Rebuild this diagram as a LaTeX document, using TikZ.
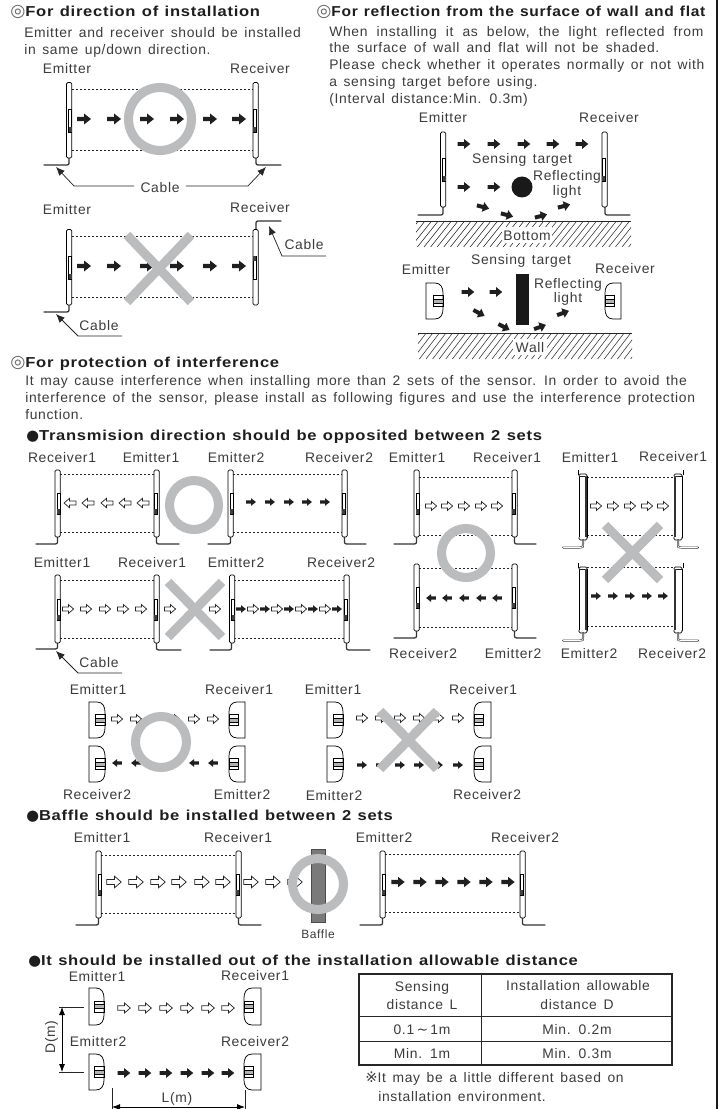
\documentclass[tikz,border=0pt]{standalone}
\usepackage{fontspec}
\setmainfont[LetterSpace=5,WordSpace=1.45]{Liberation Sans}
\newfontfamily\headf[LetterSpace=5,FakeStretch=1.15,WordSpace=1.2]{Liberation Sans}
\newfontfamily\headg[LetterSpace=5,FakeStretch=1.08,WordSpace=1.2]{Liberation Sans}
\newfontfamily\symf{DejaVu Sans}
\usetikzlibrary{arrows.meta}
\definecolor{txtc}{HTML}{3C3C3C}
\definecolor{headc}{HTML}{1E1E1E}
\definecolor{markc}{HTML}{BBBCBD}
\newcommand{\dblc}{{\fontsize{13}{12}\symf\mdseries\color{black!60}◎}}
\newcommand{\bull}{{\fontsize{11}{12}\symf\mdseries ●}}
\tikzset{
  lab/.style={inner sep=0pt,text=txtc,font=\fontsize{10.4}{12}\selectfont,text height=7.5pt,text depth=0pt,align=center},
  bodyt/.style={lab,anchor=west},
  headt/.style={inner sep=0pt,anchor=west,text=headc,font=\fontsize{10.8}{12}\headf\bfseries,text height=7.5pt,text depth=0pt},
  barshape/.style={draw=black,fill=white,line width=.5pt,rounded corners=1pt},
  dashl/.style={draw=black!85,line width=.55pt,dash pattern=on 1.7pt off 1.3pt},
  cablel/.style={draw=black!80,line width=.95pt,line cap=round},
  ringm/.style={draw=markc,line width=6.8pt},
  crossm/.style={draw=markc,line width=6.8pt},
  leader/.style={draw=black!85,line width=.55pt,-{Latex[length=6.5pt,width=5.5pt]}},
  dimm/.style={draw=black,line width=.6pt,{Latex[length=6pt,width=4.5pt]}-{Latex[length=6pt,width=4.5pt]}},
  thinl/.style={draw=black!85,line width=.55pt},
  barrow/.pic={\fill[black!88] (-7,-2.2)--(0,-2.2)--(0,-5.5)--(7,0)--(0,5.5)--(0,2.2)--(-7,2.2)--cycle;},
  harrow/.pic={\filldraw[draw=black!85,fill=white,line width=.55pt] (-7,-2.4)--(.5,-2.4)--(.5,-5.6)--(7,0)--(.5,5.6)--(.5,2.4)--(-7,2.4)--cycle;},
}
% bar: x-left, top, bottom, window side (1 right, -1 left), window flip (0 black at bottom, 1 black at top)
\newcommand{\sbar}[5]{%
  \pgfmathsetmacro{\wa}{#2+.35*(#3-#2)}\pgfmathsetmacro{\wb}{#2+.66*(#3-#2)}%
  \pgfmathsetmacro{\wc}{ifthenelse(#4>0,#1+2.2,#1)}%
  \path[barshape] (#1,#2) rectangle (#1+5.2,#3);
  \draw[line width=.4pt,fill=white] (\wc,\wa) rectangle (\wc+3,\wb);
  \ifnum#5=0 \fill[black!75] (\wc,\wb-5) rectangle (\wc+3,\wb);
  \else \fill[black!75] (\wc,\wa) rectangle (\wc+3,\wa+5); \fi
}
% cable: x, ystart, xend, ycable
\newcommand{\scable}[4]{%
  \pgfmathsetmacro{\sx}{ifthenelse(#3>#1,1,-1)}\pgfmathsetmacro{\sy}{ifthenelse(#4>#2,1,-1)}%
  \draw[cablel] (#1,#2)--(#1,#4-4*\sy) .. controls (#1,#4) .. (#1+4.5*\sx,#4)--(#3,#4);
}
\newcommand{\dshape}[4]{% xflat xround top bottom
  \pgfmathsetmacro{\sx}{ifthenelse(#2>#1,1,-1)}\pgfmathsetmacro{\ym}{(#3+#4)/2}%
  \draw[line width=.55pt,fill=white] (#1,#3)--(#2-8*\sx,#3) .. controls (#2-2*\sx,#3) and (#2,#3+5) .. (#2,#3+10)--(#2,#4-10) .. controls (#2,#4-5) and (#2-2*\sx,#4) .. (#2-8*\sx,#4)--(#1,#4)--cycle;
  \fill[black!30] (#2,\ym-2) rectangle (#2-9.5*\sx,\ym+2);
  \draw[line width=.4pt] (#2,\ym-5.5) rectangle (#2-9.5*\sx,\ym+5.5);
  \draw[line width=.4pt] (#2,\ym-2) -- (#2-9.5*\sx,\ym-2) (#2,\ym+2) -- (#2-9.5*\sx,\ym+2);
}
\newcommand{\hatchfloor}[4]{% xl xr top bottom
  \begin{scope}
    \clip (#1,#3) rectangle (#2,#4);
    \foreach \hx in {0,...,40}{\draw[line width=.42pt,black!80] (#1-25+\hx*6.6,#4)--(#1-25+\hx*6.6+20,#3);}
  \end{scope}
  \draw[line width=.75pt,black!85] (#1,#3)--(#2,#3);
}
\newcommand{\heavybar}[5]{% xl top bottom darkside(1 right,-1 left) cable end x
  \pgfmathsetmacro{\dk}{ifthenelse(#4>0,#1+7,#1+1)}\pgfmathsetmacro{\xc}{#1+4}%
  \draw[line width=.5pt,fill=white] (#1,#2) rectangle (#1+8,#3);
  \draw[line width=1.1pt,black!80] (\dk,#2)--(\dk,#3);
  \draw[line width=.6pt,rounded corners=1pt,fill=white] (#1,#2)--(#1,#2-2)--(#1+8,#2-2)--(#1+8,#2);
  \draw[line width=.6pt,rounded corners=1pt,fill=white] (#1,#3)--(#1,#3+3)--(#1+8,#3+3)--(#1+8,#3);
  \pgfmathsetmacro{\hk}{ifthenelse(#4>0,#1-.5,#1+9)}%
  \draw[line width=.6pt] (\hk,#2-1)--(\hk,#2-6);
  \pgfmathsetmacro{\sx}{ifthenelse(#5>#1,1,-1)}%
  \draw[line width=1.5pt,black!75,line cap=round] (\xc,#3+3) -- (\xc,#3+7) .. controls (\xc,#3+10.5) .. (\xc+3*\sx,#3+10.5)--(#5,#3+10.5);
  \draw[line width=.6pt,white,line cap=round] (\xc,#3+3.5) -- (\xc,#3+7) .. controls (\xc,#3+10.5) .. (\xc+3*\sx,#3+10.5)--(#5-.5*\sx,#3+10.5);
}
\begin{document}
\begin{tikzpicture}[x=.75pt,y=-.75pt]
\useasboundingbox (0,0) rectangle (720,1109);
\fill[white] (0,0) rectangle (720,1109);
\draw[black!90,line width=1.9pt] (717,0)--(717,1109);

% ---------- section 1
\node[headt] (h1) at (10,12) {\dblc For direction of installation};
\node[bodyt] (b1a) at (24,33) {Emitter and receiver should be installed};
\node[bodyt] (b1b) at (24,50) {in same up/down direction.};
\node[lab] (e1) at (67,69) {Emitter};
\node[lab] (r1) at (260,69) {Receiver};
\draw[dashl] (72,89)--(253,89) (72,150)--(253,150);
\scable{69}{158}{44}{165}\scable{256}{158}{281}{165}
\sbar{66.5}{82.5}{158}{1}{0}\sbar{253}{82.5}{158}{-1}{0}
\foreach \xx in {84,114,147,177,210,239}{\pic at (\xx,119) {barrow};}
\draw[ringm] (160,119) circle (31.5);
\node[lab] (c1) at (160,188) {Cable};
\coordinate (c1la) at (74,186);\coordinate (c1lb) at (56,167);
\coordinate (c1ra) at (248,186);\coordinate (c1rb) at (266,167);
\draw[leader] (c1.west) ++(-6,-2) -- (c1la) -- (c1lb);
\draw[leader] (c1.east) ++(6,-2) -- (c1ra) -- (c1rb);

\node[lab] (e2) at (67,210) {Emitter};
\node[lab] (r2) at (260,208) {Receiver};
\draw[dashl] (72,236)--(253,236) (72,297)--(253,297);
\scable{69}{305}{44}{312}\scable{256}{229}{281}{221}
\sbar{66.5}{229.5}{305}{1}{0}\sbar{253}{229.5}{305}{-1}{1}
\foreach \xx in {84,114,147,177,210,239}{\pic at (\xx,266) {barrow};}
\draw[crossm] (127,235)--(191,302) (191,235)--(127,302);
\node[lab] (c2) at (304,244) {Cable};
\coordinate (c2a) at (326,256);\coordinate (c2b) at (282,256);\coordinate (c2c) at (269,226);
\draw[leader] (c2a)--(c2b)--(c2c);
\node[lab] (c3) at (99,325) {Cable};
\coordinate (c3a) at (122,336);\coordinate (c3b) at (78,336);\coordinate (c3c) at (56,314);
\draw[leader] (c3a)--(c3b)--(c3c);

% ---------- section 2
\node[headt,font=\fontsize{10.8}{12}\headg\bfseries] (h2) at (316,12) {\dblc For reflection from the surface of wall and flat};
\node[bodyt] (b2a) at (329,32) {\spaceskip=6.8pt\relax When installing it as below, the light reflected from};
\node[bodyt] (b2b) at (329,48) {\spaceskip=5.4pt\relax the surface of wall and flat will not be shaded.};
\node[bodyt] (b2c) at (329,65) {Please check whether it operates normally or not with};
\node[bodyt] (b2d) at (329,82) {a sensing target before using.};
\node[bodyt] (b2e) at (329,98.5) {(Interval distance:Min. 0.3m)};
\node[lab] (e3) at (443,118) {Emitter};
\node[lab] (r3) at (609,118) {Receiver};
\scable{443}{207}{418}{215}\scable{605}{207}{630}{215}
\sbar{440.5}{132}{207}{1}{0}\sbar{602}{132}{207}{-1}{0}
\foreach \xx in {464,494,524,553,582}{\pic[scale=.9] at (\xx,144) {barrow};}
\foreach \xx in {464,494}{\pic[scale=.9] at (\xx,187) {barrow};}
\pic[scale=.9,rotate=-15] at (483,207) {barrow};
\pic[scale=.9,rotate=-15] at (507,215) {barrow};
\pic[scale=.9,rotate=15] at (541,216) {barrow};
\pic[scale=.9,rotate=15] at (564,206) {barrow};
\fill[black!90] (522,187) circle (10.5);
\node[lab] (s1) at (522,159) {Sensing target};
\node[lab] (rf1) at (567,176) {Reflecting};
\node[lab] (rf1b) at (567,191) {light};
\hatchfloor{416}{631}{222}{247}
\node[lab,fill=white,minimum width=37pt,minimum height=12pt] (bt) at (527,235.5) {Bottom};

\node[lab] (e4) at (426,269) {Emitter};
\node[lab] (s2) at (521,259) {Sensing target};
\node[lab] (r4) at (625,268) {Receiver};
\dshape{426}{443}{283}{319}\dshape{621}{605}{283}{319}
\foreach \xx in {468,496}{\pic[scale=.9] at (\xx,292) {barrow};}
\pic[scale=.9,rotate=-28] at (479,313) {barrow};
\pic[scale=.9,rotate=-28] at (504,327) {barrow};
\pic[scale=.9,rotate=20] at (540,327) {barrow};
\pic[scale=.9,rotate=20] at (563,313) {barrow};
\fill[black!90] (516,274) rectangle (529,325);
\node[lab] (rf2) at (568,283) {Reflecting};
\node[lab] (rf2b) at (568,297) {light};
\hatchfloor{418}{632}{333}{359}
\node[lab,fill=white,minimum width=25pt,minimum height=12pt] (wl) at (530,347) {Wall};

% ---------- section 3
\node[headt] (h3) at (10,362) {\dblc For protection of interference};
\node[bodyt] (b3a) at (25,380) {It may cause interference when installing more than 2 sets of the sensor. In order to avoid the};
\node[bodyt] (b3b) at (25,397) {interference of the sensor, please install as following figures and use the interference protection};
\node[bodyt] (b3c) at (25,414) {function.};
\node[headt] (h4) at (26,435.5) {\bull Transmision direction should be opposited between 2 sets};

\node[lab] (a1) at (62,457) {Receiver1};
\node[lab] (a2) at (151,457) {Emitter1};
\node[lab] (a3) at (236,457) {Emitter2};
\node[lab] (a4) at (339,457) {Receiver2};
\draw[dashl] (60,474)--(154,474) (60,532)--(154,532) (233,474)--(342,474) (233,532)--(342,532);
\scable{57.5}{537}{36}{544}\scable{156.5}{537}{179}{544}\scable{230.5}{537}{208}{544}\scable{344.5}{537}{366}{544}
\sbar{55}{470}{537}{1}{0}\sbar{154}{470}{537}{-1}{0}\sbar{228}{470}{537}{1}{0}\sbar{342}{470}{537}{-1}{0}
\foreach \xx in {70,88,107,125,143}{\pic[scale=.85,rotate=180] at (\xx,503) {harrow};}
\foreach \xx in {251,270,289,307,325}{\pic[scale=.7] at (\xx,502) {barrow};}
\draw[ringm] (194,505) circle (24.5);

\node[lab] (a5) at (62,562) {Emitter1};
\node[lab] (a6) at (152,562) {Receiver1};
\node[lab] (a7) at (236,562) {Emitter2};
\node[lab] (a8) at (341,562) {Receiver2};
\draw[dashl] (60,580)--(154,580) (60,638)--(154,638) (234,580)--(344,580) (234,638)--(344,638);
\scable{57.5}{643}{36}{649}\scable{156.5}{643}{181}{650}\scable{231.5}{643}{210}{650}\scable{346.5}{643}{370}{650}
\sbar{55}{575}{643}{1}{0}\sbar{154}{575}{643}{-1}{0}\sbar{229.5}{575}{643}{1}{0}\sbar{344}{575}{643}{-1}{0}
\foreach \xx in {68,86,105,123,141,170,215,253,277,301,325}{\pic[scale=.8] at (\xx,609) {harrow};}
\foreach \xx in {241,265,289,313,337}{\pic[scale=.7] at (\xx,609) {barrow};}
\draw[crossm] (168,582)--(222,637) (222,582)--(168,637);
\node[lab] (c4) at (99,662) {Cable};
\coordinate (c4a) at (122,673);\coordinate (c4b) at (78,673);\coordinate (c4c) at (56,651);
\draw[leader] (c4a)--(c4b)--(c4c);

% column 3
\node[lab] (a9) at (417,457) {Emitter1};
\node[lab] (a10) at (507,457) {Receiver1};
\draw[dashl] (419,477)--(512,477) (419,535)--(512,535) (419,568)--(512,568) (419,627)--(512,627);
\scable{416.5}{537}{394}{544}\scable{514.5}{537}{536}{544}\scable{416.5}{631}{394}{638}\scable{514.5}{631}{536}{638}
\sbar{414}{470}{537}{1}{0}\sbar{512}{470}{537}{-1}{0}\sbar{414}{564}{631}{1}{0}\sbar{512}{564}{631}{-1}{0}
\foreach \xx in {431,447,464,481,497}{\pic[scale=.8] at (\xx,506) {harrow};}
\foreach \xx in {431,447,464,481,497}{\pic[scale=.7,rotate=180] at (\xx,598) {barrow};}
\node[lab] (a11) at (423,653) {Receiver2};
\node[lab] (a12) at (513,653) {Emitter2};
\draw[ringm] (466,553) circle (24.5);

% column 4
\node[lab] (a13) at (590,457) {Emitter1};
\node[lab] (a14) at (673,456) {Receiver1};
\draw[dashl] (587,477)--(674,477) (587,535)--(674,535) (587,567)--(674,567) (587,626)--(674,626);
\heavybar{579}{476}{537}{1}{563}\heavybar{674}{476}{537}{-1}{698}
\heavybar{579}{569}{630}{1}{563}\heavybar{674}{569}{630}{-1}{698}
\foreach \xx in {596,613,630,647,663}{\pic[scale=.8] at (\xx,506) {harrow};}
\foreach \xx in {596,613,630,647,663}{\pic[scale=.7] at (\xx,596) {barrow};}
\node[lab] (a15) at (589,653) {Emitter2};
\node[lab] (a16) at (672,653) {Receiver2};
\draw[crossm] (605,525)--(660,580) (660,525)--(605,580);

% row of D shapes
\node[lab] (d1) at (98,689) {Emitter1};
\node[lab] (d2) at (239,689) {Receiver1};
\node[lab] (d3) at (333,689) {Emitter1};
\node[lab] (d4) at (483,689) {Receiver1};
\dshape{89}{105}{702}{738}\dshape{245}{229}{702}{738}\dshape{89}{105}{746}{782}\dshape{245}{229}{746}{782}
\foreach \xx in {117,136,155,174,194,213}{\pic[scale=.8] at (\xx,719) {harrow};}
\foreach \xx in {117,136,155,174,194,213}{\pic[scale=.7,rotate=180] at (\xx,763) {barrow};}
\draw[ringm,fill=white] (161,742) circle (25.5);
\node[lab] (d5) at (97,794) {Receiver2};
\node[lab] (d6) at (242,794) {Emitter2};
\dshape{327}{343}{702}{738}\dshape{491}{474}{702}{738}\dshape{327}{343}{746}{782}\dshape{491}{474}{746}{782}
\foreach \xx in {362,381,400,419,438,458}{\pic[scale=.8] at (\xx,718) {harrow};}
\foreach \xx in {362,381,400,419,438,458}{\pic[scale=.7] at (\xx,765) {barrow};}
\draw[crossm] (380,711)--(437,769) (437,711)--(380,769);
\node[lab] (d7) at (334,795) {Emitter2};
\node[lab] (d8) at (487,794) {Receiver2};

% ---------- baffle
\node[headt] (h5) at (26,815) {\bull Baffle should be installed between 2 sets};
\node[lab] (f1) at (102,837) {Emitter1};
\node[lab] (f2) at (238,837) {Receiver1};
\node[lab] (f3) at (384,837) {Emitter2};
\node[lab] (f4) at (525,837) {Receiver2};
\draw[dashl] (101,855)--(236,855) (101,913)--(236,913) (385,854)--(520,854) (385,912)--(520,912);
\scable{98.5}{918}{76}{925}\scable{238.5}{918}{261}{925}\scable{382.5}{918}{360}{925}\scable{522.5}{918}{545}{925}
\sbar{96}{851}{918}{1}{0}\sbar{236}{851}{918}{-1}{0}\sbar{380}{851}{918}{1}{0}\sbar{520}{851}{918}{-1}{0}
\foreach \xx in {114,136,158,179,202,223,251,273}{\pic[scale=1.03] at (\xx,882) {harrow};}
\foreach \xx in {398,420,442,464,486,508}{\pic[scale=.95] at (\xx,882) {barrow};}
\draw[line width=.7pt,draw=black!70,fill=black!52] (311,849) rectangle (325,922);
\pic[scale=1.03] at (295,882) {harrow};
\draw[ringm] (318,884) circle (25.5);
\node[lab,font=\fontsize{9}{10}\selectfont] (f5) at (318,933) {Baffle};

% ---------- distance
\node[headt] (h6) at (28,960) {\bull It should be installed out of the installation allowable distance};
\node[lab] (g1) at (97,976) {Emitter1};
\node[lab] (g2) at (255,975) {Receiver1};
\node[lab] (g3) at (98,1041) {Emitter2};
\node[lab] (g4) at (255,1041) {Receiver2};
\dshape{89}{104}{988}{1025}\dshape{261}{244}{988}{1025}\dshape{89}{104}{1054}{1090}\dshape{261}{244}{1054}{1090}
\foreach \xx in {124,145,166,187,208,228}{\pic[scale=.9] at (\xx,1008) {harrow};}
\foreach \xx in {124,145,166,187,208,228}{\pic[scale=.9] at (\xx,1073) {barrow};}
\coordinate (da) at (59,1007);\coordinate (db) at (84,1007);\coordinate (dc) at (59,1072);\coordinate (dd) at (84,1072);
\coordinate (dm1) at (62,1007);\coordinate (dm2) at (62,1072);
\draw[thinl] (da)--(db) (dc)--(dd);
\draw[dimm] (dm1)--(dm2);
\node[lab,rotate=90] (dlab) at (50,1037) {D(m)};
\coordinate (la) at (112,1088);\coordinate (lb) at (112,1109);\coordinate (lc) at (245,1090);\coordinate (ld) at (245,1109);
\coordinate (lm1) at (112,1107);\coordinate (lm2) at (245,1107);
\draw[thinl] (la)--(lb) (lc)--(ld);
\draw[dimm] (lm1)--(lm2);
\node[lab] (llab) at (177,1097) {L(m)};

% table
\draw[line width=.9pt,black!85] (359,974) rectangle (672,1065);
\draw[line width=.7pt,black!85] (481,974)--(481,1065) (359,1016)--(672,1016) (359,1041)--(672,1041);
\node[lab] (t1) at (422,986) {Sensing};
\node[lab] (t2) at (422,1004) {distance L};
\node[lab] (t3) at (578,985) {Installation allowable};
\node[lab] (t4) at (577,1004) {distance D};
\node[lab] (t5) at (422,1029) {0.1{\symf\,∼\,}1m};
\node[lab] (t6) at (577,1029) {Min. 0.2m};
\node[lab] (t7) at (422,1053) {Min. 1m};
\node[lab] (t8) at (577,1053) {Min. 0.3m};
\node[bodyt] (n1) at (365,1077) {{\fontsize{11}{10}\symf ※}It may be a little different based on};
\node[bodyt] (n2) at (378,1096) {installation environment.};
\end{tikzpicture}
\end{document}
